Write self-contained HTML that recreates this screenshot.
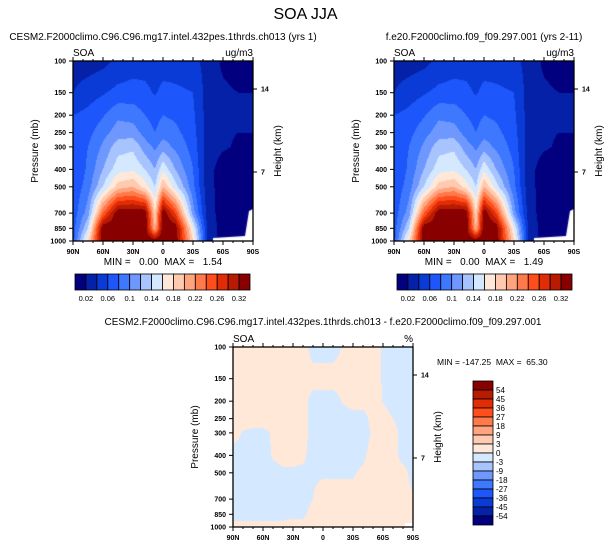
<!DOCTYPE html>
<html><head><meta charset="utf-8">
<style>
html,body{margin:0;padding:0;background:#fff;width:611px;height:547px;overflow:hidden;position:relative;font-family:"Liberation Sans",Arial,sans-serif;}
canvas{position:absolute;}
svg{position:absolute;left:0;top:0;}
svg text{white-space:pre;}
</style></head>
<body>
<canvas id="c1" width="180" height="180" style="left:73px;top:61px"></canvas>
<canvas id="c2" width="180" height="180" style="left:394px;top:61px"></canvas>
<canvas id="c3" width="180" height="180" style="left:233px;top:347px"></canvas>
<svg id="ov" width="611" height="547"></svg>
<script>
// ---- data ----
const lats = [90,75,60,45,30,18,8,0,-12,-30,-45,-60,-75,-90];
const pLevels = [100,150,200,250,300,400,500,700,850,1000];
// level-index values (0..16), rows = pressure levels
const field1 = [
 [1.5,1.5,1.7,2.2,2.5,2.5,2.3,2.5,2.5,2.3,1.6,0.8,0.5,0.5],
 [2,2.5,2.9,3.3,3.4,3.3,2.9,3.3,3.2,3,1.5,1.2,1,1],
 [3,3.3,3.9,4.8,4.6,4,3.6,4,3.8,3.2,1.5,1.2,1,1],
 [3.1,3.7,4.6,5.5,5.5,4.6,4,4.6,4.3,3.4,1.5,1.1,1,1],
 [3.2,4,5.2,6.6,6.8,5.5,4.8,5.5,4.8,3.6,1.4,1.1,0.9,0.9],
 [3,4.2,6,7.6,7.8,7,6,7.8,6,4,1.3,0.6,0.6,0.6],
 [3.2,4.5,7,9.5,10,8.5,7,10,7.5,4.3,1.3,0.6,0.6,0.6],
 [3.4,5.5,12,16,16,16,9,16,13,5.5,1.4,0.6,0.6,0.6],
 [3.5,7,16,16,16,16,10,16,16,8,1.6,0.6,0.6,0.6],
 [3.5,9,16,16,16,16,16,16,16,9,1.7,0.6,0.6,0.6]];
const field2 = [
 [1.5,1.5,1.7,2.2,2.5,2.5,2.3,2.5,2.5,2.3,1.6,0.8,0.5,0.5],
 [2,2.5,2.9,3.3,3.4,3.3,2.9,3.3,3.2,3,1.5,1.2,1,1],
 [3,3.3,3.9,4.8,4.6,4,3.6,4,3.8,3.2,1.5,1.2,1,1],
 [3.1,3.7,4.6,5.5,5.5,4.6,4,4.6,4.3,3.4,1.5,1.1,1,1],
 [3.2,4,5.2,6.6,6.8,5.5,4.8,5.5,4.8,3.6,1.4,1.1,0.9,0.9],
 [3,4.2,6,7.6,7.8,7,6,7.8,6,4,1.3,0.6,0.6,0.6],
 [3.2,4.5,7,9.5,10,8.5,7,10,7.5,4.3,1.3,0.6,0.6,0.6],
 [3.4,5.5,12,16,16,16,9,16,13,5.5,1.4,0.6,0.6,0.6],
 [3.5,7,16,16,16,16,10,16,16,8,1.6,0.6,0.6,0.6],
 [3.5,9,16,16,16,16,16,16,16,9,1.7,0.6,0.6,0.6]];
const latsD = [90,80,70,60,50,40,30,20,10,0,-10,-20,-30,-40,-50,-60,-70,-80,-90];
// sign of percent difference (+ peach, - light blue)
const diff = [
 [1,1,1,1,1,1,1,1,-1,-1,-1,0.2,1,1,1,-0.3,-1,-1,-1],
 [1,1,1,1,1,1,1,1,1,1,1,1,1,1,1,-0.2,-1,-1,-1],
 [1,1,1,1,1,1,1,1,-1,-1,-1,0.2,1,1,1,-0.1,-1,-1,-1],
 [1,1,1,1,1,1,1,1,-1,-1,-1,-1,-1,-1,1,1,0,-1,-1],
 [1,-0.2,-0.5,-0.5,0.2,1,1,1,-1,-1,-1,-1,-1,-1,0.3,1,1,-1,-1],
 [-1,-1,-1,-1,0.3,1,1,0.5,-1,-1,-1,-1,-1,-0.5,1,1,1,-1,-1],
 [-1,-1,-1,-1,-1,-0.5,-0.5,-0.5,-0.3,-0.3,-0.3,-0.3,-0.3,0.5,1,1,1,1,-1],
 [-1,-1,-1,-1,-1,-1,-1,-1,0,1,1,1,1,1,1,1,1,1,0.3],
 [-1,-1,-1,-1,-1,-1,-0.5,-0.5,1,1,1,1,1,1,1,1,1,1,1],
 [1,1,1,1,1,1,1,1,1,1,1,1,1,1,1,1,1,1,1]];
const topColors = ["#03007f","#0521a8","#0a3bd6","#1d56fb","#3d78ff","#6f98ff","#a8c4ff","#d4e8ff","#ffe8d8","#ffcab0","#ffa47e","#ff7a4a","#ff4d1c","#e02d06","#b81a02","#880000"];
const topTicks = ["0.02","0.06","0.1","0.14","0.18","0.22","0.26","0.32"];
const diffColors = ["#880000","#b81a02","#e02d06","#ff4d1c","#ff7a4a","#ffa47e","#ffcab0","#ffe8d8","#d4e8ff","#a8c4ff","#6f98ff","#3d78ff","#1d56fb","#0a3bd6","#0521a8","#03007f"];
const diffTicks = ["54","45","36","27","18","9","3","0","-3","-9","-18","-27","-36","-45","-54"];
const pTicks = [100,150,200,250,300,400,500,700,850,1000];
const latTicks = ["90N","60N","30N","0","30S","60S","90S"];

// ---- axis functions ----
const H=180,W=180;
function yOfP(p){return (Math.log10(p)-2)*H;}
function pOfY(y){return Math.pow(10,2+y/H);}
function xOfLat(l){return (90-l)/180*W;}
function sample(grid,latArr,lat,p){
  const lp=Math.log10(p);
  let r=0;while(r<pLevels.length-2&&Math.log10(pLevels[r+1])<lp)r++;
  const t=(lp-Math.log10(pLevels[r]))/(Math.log10(pLevels[r+1])-Math.log10(pLevels[r]));
  let c=0;while(c<latArr.length-2&&latArr[c+1]>lat)c++;
  const s=(latArr[c]-lat)/(latArr[c]-latArr[c+1]);
  const a=grid[r][c]*(1-s)+grid[r][c+1]*s, b=grid[r+1][c]*(1-s)+grid[r+1][c+1]*s;
  return a*(1-t)+b*t;
}
function drawTop(id,grid){
  const ctx=document.getElementById(id).getContext('2d');
  for(let y=0;y<H;y++)for(let x=0;x<W;x++){
    const v=sample(grid,lats,90-(x+0.5)/W*180,pOfY(y+0.5));
    ctx.fillStyle=topColors[Math.max(0,Math.min(15,Math.floor(v)))];
    ctx.fillRect(x,y,1,1);
  }
  ctx.fillStyle="#fff";
  ctx.beginPath();ctx.moveTo(180,148);ctx.lineTo(176,150);ctx.lineTo(172,175);ctx.lineTo(140,177);ctx.lineTo(140,180);ctx.lineTo(180,180);ctx.fill();
}
function drawDiff(id){
  const ctx=document.getElementById(id).getContext('2d');
  for(let y=0;y<H;y++)for(let x=0;x<W;x++){
    const v=sample(diff,latsD,90-(x+0.5)/W*180,pOfY(y+0.5));
    ctx.fillStyle=v>=0?"#ffe8d8":"#d4e8ff";
    ctx.fillRect(x,y,1,1);
  }
  ctx.fillStyle="#fff";ctx.fillRect(172,176,8,4);
}
drawTop('c1',field1);drawTop('c2',field2);drawDiff('c3');

// ---- overlay ----
const NS="http://www.w3.org/2000/svg";const ov=document.getElementById('ov');
function el(tag,attrs,txt){const e=document.createElementNS(NS,tag);for(const k in attrs)e.setAttribute(k,attrs[k]);if(txt!==undefined)e.textContent=txt;ov.appendChild(e);return e;}
function txt(x,y,s,size,anchor,name,extra){const e=el('text',Object.assign({x:x,y:y,'font-size':size,'text-anchor':anchor||'start',fill:'#000'},extra||{}),s);

return e;}
function panel(x0,y0,unit,pref){
  const r=el('rect',{x:x0,y:y0,width:W,height:H,fill:'none',stroke:'#000','stroke-width':1.3});
  
  
  pTicks.forEach(p=>{const y=y0+yOfP(p);
    el('line',{x1:x0-4,x2:x0,y1:y,y2:y,stroke:'#000','stroke-width':1});
    txt(x0-7,y+2.5,String(p),7,'end',pref+'-pressure-tick-'+p,{'font-weight':'bold'});});
  for(let l=90;l>=-90;l-=10){const x=x0+xOfLat(l);const big=(l%30===0);
    el('line',{x1:x,x2:x,y1:y0+H,y2:y0+H+(big?4:2),stroke:'#000','stroke-width':1});
    el('line',{x1:x,x2:x,y1:y0,y2:y0-(big?4:2),stroke:'#000','stroke-width':1});}
  latTicks.forEach((s,i)=>{txt(x0+i*30,y0+H+13,s,7,'middle',pref+'-lat-tick-'+s,{'font-weight':'bold'});});
  [[14,89-61],[7,172-61]].forEach(([k,y])=>{el('line',{x1:x0+W,x2:x0+W+4,y1:y0+y,y2:y0+y,stroke:'#000'});
    txt(x0+W+8,y0+y+2.5,String(k),7,'start',pref+'-height-tick-'+k,{'font-weight':'bold'});});
  txt(x0,y0-5,'SOA',10,'start',pref+'-variable-label');
  txt(x0+W,y0-5,unit,10,'end',pref+'-units-label');
  txt(x0-35,y0+H/2,'Pressure (mb)',10,'middle',pref+'-y-axis-title',{transform:`rotate(-90 ${x0-35} ${y0+H/2})`});
  txt(x0+W+28,y0+H/2,'Height (km)',10,'middle',pref+'-right-axis-title',{transform:`rotate(-90 ${x0+W+28} ${y0+H/2})`});
}
txt(305.5,19,'SOA JJA',16,'middle','main-title');
txt(163,40,'CESM2.F2000climo.C96.C96.mg17.intel.432pes.1thrds.ch013 (yrs 1)',10,'middle','panel-1-title');
txt(484,40,'f.e20.F2000climo.f09_f09.297.001 (yrs 2-11)',10,'middle','panel-2-title');
txt(323,325,'CESM2.F2000climo.C96.C96.mg17.intel.432pes.1thrds.ch013 - f.e20.F2000climo.f09_f09.297.001',10,'middle','panel-3-title');
panel(73,61,'ug/m3','p1');panel(394,61,'ug/m3','p2');panel(233,347,'%','p3');
txt(163,265,'MIN =   0.00  MAX =   1.54',10,'middle','p1-min-max');
txt(484,265,'MIN =   0.00  MAX =   1.49',10,'middle','p2-min-max');
txt(437,365,'MIN = -147.25  MAX =  65.30',8.5,'start','p3-min-max');
function hbar(x0,y0,pref){
  const w=175/16;
  topColors.forEach((c,i)=>{const r=el('rect',{x:x0+i*w,y:y0,width:w,height:16,fill:c,stroke:'#000','stroke-width':0.8});
    
    });
  topTicks.forEach((s,i)=>{txt(x0+(2*i+1)*w,y0+27,s,7.5,'middle',pref+'-colorbar-label-'+i);});
}
hbar(75,274,'p1');hbar(397,274,'p2');
const vh=144/16;
diffColors.forEach((c,i)=>{const r=el('rect',{x:473,y:381+i*vh,width:20,height:vh,fill:c,stroke:'#000','stroke-width':0.8});
  
  });
diffTicks.forEach((s,i)=>{txt(496,381+(i+1)*vh+3,s,8,'start','p3-colorbar-label-'+i);});
</script>
</body></html>
